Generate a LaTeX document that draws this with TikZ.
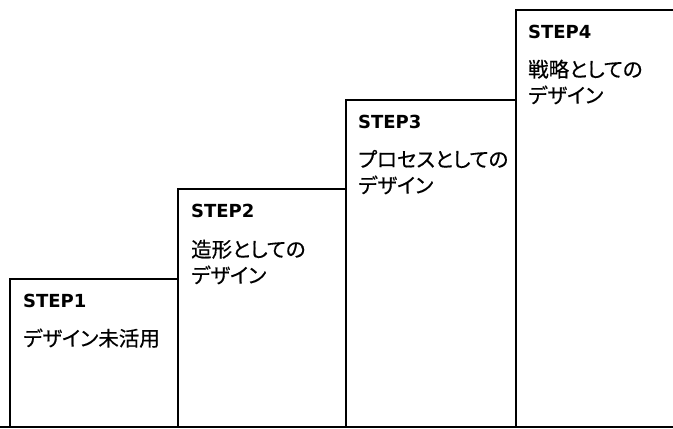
\documentclass[tikz,border=0pt]{standalone}
\usepackage{fontspec}
\newfontfamily\jpfont[RawFeature=+palt,FakeBold=0.5]{Noto Sans CJK JP}
\newfontfamily\stepfont{DejaVu Sans}
\tikzset{
  stepframe/.style={draw=black, line width=1.3pt},
  steplabel/.style={anchor=base west, inner sep=0pt, font=\stepfont\bfseries\fontsize{18}{20}\selectfont},
  desclabel/.style={anchor=base west, inner sep=0pt, align=left, font=\jpfont\fontsize{20.5}{26}\selectfont},
}
\begin{document}
\begin{tikzpicture}[x=1pt,y=-1pt]
\useasboundingbox (0,0) rectangle (673,429);
\clip (0,0) rectangle (673,429);
\draw[stepframe] (10,279) rectangle (178,427);
\draw[stepframe] (178,189) rectangle (346,427);
\draw[stepframe] (346,100) rectangle (516,427);
\draw[stepframe] (516,10) rectangle (680,427);
\draw[stepframe] (0,427) -- (673,427);
\node[steplabel] (s1) at (23,307) {STEP1};
\node[desclabel] (d1) at (23,346) {デザイン未活用};
\node[steplabel] (s2) at (191,217) {STEP2};
\node[desclabel] (d2) at (191,283) {造形としての\\デザイン};
\node[steplabel] (s3) at (358,128) {STEP3};
\node[desclabel] (d3) at (358,193) {プロセスとしての\\デザイン};
\node[steplabel] (s4) at (528,38) {STEP4};
\node[desclabel] (d4) at (528,103) {戦略としての\\デザイン};
\end{tikzpicture}
\end{document}
